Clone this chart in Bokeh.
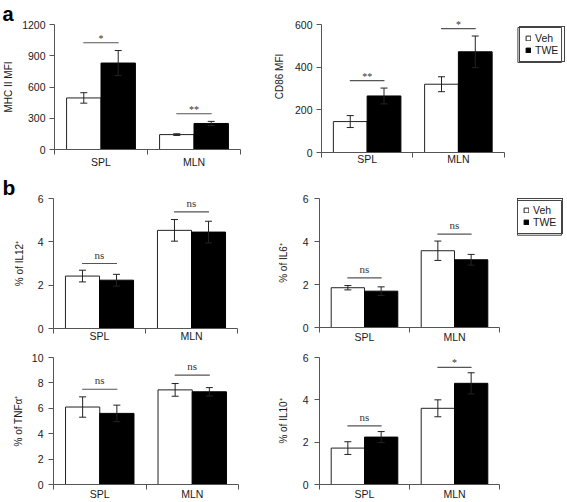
from bokeh.plotting import figure
from bokeh.models import (ColumnDataSource, FixedTicker, Whisker, TeeHead, LabelSet,
                          Legend, LegendItem, Range1d, Title)
from bokeh.layouts import column, row
from bokeh.embed import file_html
from bokeh.resources import INLINE

# ---------------- data ----------------
categories = ["SPL", "MLN"]
groups = ["Veh", "TWE"]

mhc_veh = [495, 143]
mhc_veh_err = [50, 8]
mhc_twe = [830, 250]
mhc_twe_err = [120, 20]
mhc_sig_y = [1025, 343]
mhc_sig = ["*", "**"]
mhc_ticks = [0, 300, 600, 900, 1200]

cd86_veh = [145, 320]
cd86_veh_err = [28, 35]
cd86_twe = [265, 472]
cd86_twe_err = [37, 74]
cd86_sig_y = [337, 581]
cd86_sig = ["**", "*"]
cd86_ticks = [0, 200, 400, 600]

il12_veh = [2.42, 4.53]
il12_veh_err = [0.27, 0.5]
il12_twe = [2.23, 4.45]
il12_twe_err = [0.27, 0.5]
il12_sig_y = [3.0, 5.38]
il12_sig = ["ns", "ns"]

il6_veh = [1.85, 3.57]
il6_veh_err = [0.1, 0.45]
il6_twe = [1.69, 3.15]
il6_twe_err = [0.2, 0.25]
il6_sig_y = [2.31, 4.34]
il6_sig = ["ns", "ns"]

tnf_veh = [6.1, 7.45]
tnf_veh_err = [0.8, 0.5]
tnf_twe = [5.6, 7.3]
tnf_twe_err = [0.65, 0.33]
tnf_sig_y = [7.5, 8.62]
tnf_sig = ["ns", "ns"]
tnf_ticks = [0, 2, 4, 6, 8, 10]

il10_veh = [1.72, 3.6]
il10_veh_err = [0.3, 0.4]
il10_twe = [2.24, 4.78]
il10_twe_err = [0.26, 0.5]
il10_sig_y = [2.77, 5.53]
il10_sig = ["ns", "*"]

pct_ticks = [0, 2, 4, 6]

# ---------------- style ----------------
FONT = "Liberation Sans"
AX = "#555555"
TXT = "#1a1a1a"
BAR_W = 0.37
LEG_PAD = 5
LEG_GLYPH = 6
LEG_STANDOFF = 4
LEG_LABEL_W = 24


def panel(W, H, ml, mr, mt, mb, ext_top, ext_right, yticks, ylabel, veh, veh_err,
          twe, twe_err, sig_y, sig_txt, xstand, ystand, axstand,
          legend_loc=None, legend_h=35, tag=None, tag_offset=0, tag_size="21px"):
    n = len(categories)
    ymax = yticks[-1]
    axis_h = H - mt - mb - ext_top
    axis_w = W - ml - mr - ext_right
    p = figure(width=W, height=H,
               x_range=Range1d(0, n * (axis_w + ext_right) / axis_w),
               y_range=Range1d(0, ymax * (axis_h + ext_top) / axis_h),
               output_backend="svg", toolbar_location=None,
               min_border_left=ml, min_border_right=mr, min_border_top=mt,
               min_border_bottom=mb)
    p.outline_line_color = None
    p.xgrid.visible = False
    p.ygrid.visible = False
    p.background_fill_color = "white"
    p.border_fill_color = "white"

    xc = [i + 0.5 for i in range(n)]
    half = BAR_W / 2
    src_v = ColumnDataSource(dict(
        x=[c - half for c in xc], top=veh,
        lo=[v - e for v, e in zip(veh, veh_err)],
        hi=[v + e for v, e in zip(veh, veh_err)]))
    src_t = ColumnDataSource(dict(
        x=[c + half for c in xc], top=twe,
        lo=[v - e for v, e in zip(twe, twe_err)],
        hi=[v + e for v, e in zip(twe, twe_err)]))
    rv = p.vbar(x="x", top="top", width=BAR_W, source=src_v, fill_color="white",
                line_color="#222222", line_width=1)
    rt = p.vbar(x="x", top="top", width=BAR_W, source=src_t, fill_color="black",
                line_color="black", line_width=1)
    for src in (src_v, src_t):
        w = Whisker(base="x", upper="hi", lower="lo", source=src, dimension="height",
                    line_color="#222222", line_width=1, level="annotation",
                    upper_head=TeeHead(size=7, line_color="#222222", line_width=1),
                    lower_head=TeeHead(size=7, line_color="#222222", line_width=1))
        p.add_layout(w)

    # significance brackets
    p.segment(x0=[c - 0.19 for c in xc], x1=[c + 0.19 for c in xc], y0=sig_y, y1=sig_y,
              line_color=AX, line_width=1.2)
    sig_src = ColumnDataSource(dict(
        x=xc, y=sig_y, t=sig_txt,
        off=[5 if s == "ns" else 1 for s in sig_txt],
        fs=["11px" if s == "ns" else "10px" for s in sig_txt]))
    p.add_layout(LabelSet(x="x", y="y", text="t", y_offset="off", source=sig_src,
                          text_align="center", text_baseline="alphabetic",
                          text_font=FONT, text_font_size="fs", text_color="#333333"))

    # axes
    xa = p.xaxis[0]
    xa.bounds = (0, n)
    xa.ticker = FixedTicker(ticks=xc, minor_ticks=list(range(n + 1)))
    xa.major_label_overrides = {xc[i]: categories[i] for i in range(n)}
    xa.major_tick_line_color = None
    xa.major_tick_out = 0
    xa.major_tick_in = 0
    xa.minor_tick_out = 5
    xa.minor_tick_in = 0
    xa.minor_tick_line_color = AX
    xa.axis_line_color = AX
    xa.major_label_standoff = xstand
    xa.major_label_text_font = FONT
    xa.major_label_text_font_size = "10.5px"
    xa.major_label_text_color = TXT

    ya = p.yaxis[0]
    ya.bounds = (0, ymax)
    ya.ticker = FixedTicker(ticks=yticks)
    ya.major_tick_out = 5
    ya.major_tick_in = 0
    ya.major_tick_line_color = AX
    ya.minor_tick_line_color = None
    ya.axis_line_color = AX
    ya.major_label_standoff = ystand
    ya.major_label_text_font = FONT
    ya.major_label_text_font_size = "10.5px"
    ya.major_label_text_color = TXT
    ya.axis_label = ylabel
    ya.axis_label_standoff = axstand
    ya.axis_label_text_font = FONT
    ya.axis_label_text_font_size = "10px"
    ya.axis_label_text_font_style = "normal"
    ya.axis_label_text_color = TXT

    if legend_loc is not None:
        # frame around the legend, converted from the legend's pixel box
        leg_w = 2 * LEG_PAD + LEG_GLYPH + LEG_STANDOFF + LEG_LABEL_W
        xpp = n / axis_w
        ypp = ymax / axis_h
        p.quad(left=[legend_loc[0] * xpp], right=[(legend_loc[0] + leg_w) * xpp],
               bottom=[legend_loc[1] * ypp], top=[(legend_loc[1] + legend_h) * ypp],
               fill_color=None, line_color="#444444", line_width=1)
        leg = Legend(items=[LegendItem(label=groups[0], renderers=[rv]),
                            LegendItem(label=groups[1], renderers=[rt])],
                     location=legend_loc, orientation="vertical",
                     glyph_width=LEG_GLYPH, glyph_height=LEG_GLYPH, label_height=11,
                     label_width=LEG_LABEL_W, label_standoff=LEG_STANDOFF, spacing=0,
                     padding=LEG_PAD, margin=0,
                     label_text_font=FONT, label_text_font_size="10.5px",
                     label_text_color=TXT, border_line_color="#444444",
                     border_line_alpha=1.0, border_line_width=1,
                     background_fill_alpha=0)
        p.add_layout(leg, "center")

    if tag is not None:
        p.title = Title(text=tag, align="left", offset=tag_offset, standoff=0,
                        text_font=FONT, text_font_size=tag_size, text_font_style="bold",
                        text_color="black")
    return p


a1 = panel(270, 170, 53, 30, 24, 20, 0, 0, mhc_ticks, "MHC II MFI",
           mhc_veh, mhc_veh_err, mhc_twe, mhc_twe_err, mhc_sig_y, mhc_sig,
           xstand=1, ystand=4, axstand=5, tag="a", tag_offset=-52, tag_size="20px")
a2 = panel(297, 170, 49, 0, 0, 18, 24, 64, cd86_ticks, "CD86 MFI",
           cd86_veh, cd86_veh_err, cd86_twe, cd86_twe_err, cd86_sig_y, cd86_sig,
           xstand=-5, ystand=4, axstand=7, legend_loc=(198, 90), legend_h=35)
b1 = panel(270, 175, 53, 33, 28, 17, 0, 0, pct_ticks, "% of IL12\u207a",
           il12_veh, il12_veh_err, il12_twe, il12_twe_err, il12_sig_y, il12_sig,
           xstand=-4, ystand=5, axstand=10, tag="b", tag_offset=-51)
b2 = panel(297, 175, 49, 0, 28, 17, 0, 68, pct_ticks, "% of IL6\u207a",
           il6_veh, il6_veh_err, il6_twe, il6_twe_err, il6_sig_y, il6_sig,
           xstand=-2, ystand=6, axstand=11, legend_loc=(198, 93), legend_h=35)
b3 = panel(270, 157, 53, 32, 12, 17, 0, 0, tnf_ticks, "% of TNF\u03b1\u207a",
           tnf_veh, tnf_veh_err, tnf_twe, tnf_twe_err, tnf_sig_y, tnf_sig,
           xstand=-2, ystand=5, axstand=5)
b4 = panel(297, 157, 49, 0, 12, 17, 0, 68, pct_ticks, "% of IL10\u207a",
           il10_veh, il10_veh_err, il10_twe, il10_twe_err, il10_sig_y, il10_sig,
           xstand=-2, ystand=6, axstand=11)

layout = column(row(column(a1), column(a2)),
                row(column(b1), column(b2)),
                row(column(b3), column(b4)))

open("out.html", "w").write(file_html(layout, INLINE))
